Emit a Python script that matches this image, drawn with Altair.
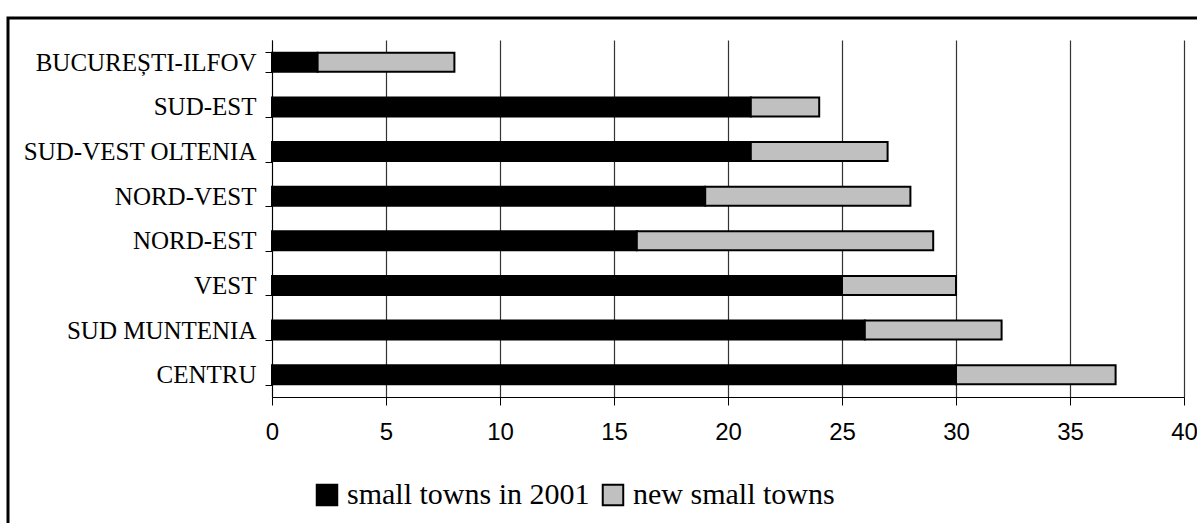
import altair as alt
import pandas as pd

# Development regions, top to bottom
regions = [
    "BUCUREȘTI-ILFOV",
    "SUD-EST",
    "SUD-VEST OLTENIA",
    "NORD-VEST",
    "NORD-EST",
    "VEST",
    "SUD MUNTENIA",
    "CENTRU",
]
towns_2001 = [2, 21, 21, 19, 16, 25, 26, 30]
new_towns = [6, 3, 6, 9, 13, 5, 6, 7]

series_names = ["small towns in 2001", "new small towns"]
series_colors = ["#000000", "#c0c0c0"]

rows = []
for r, a, b in zip(regions, towns_2001, new_towns):
    rows.append({"region": r, "series": series_names[0], "value": a, "rank": 0})
    rows.append({"region": r, "series": series_names[1], "value": b, "rank": 1})
df = pd.DataFrame(rows)

bars = (
    alt.Chart(df)
    .mark_bar(stroke="black", strokeWidth=2, size=19)
    .encode(
        y=alt.Y(
            "region:N",
            sort=regions,
            title=None,
            scale=alt.Scale(paddingInner=0.55, paddingOuter=0.275),
            axis=alt.Axis(
                tickBand="extent",
                tickSize=7,
                tickColor="black",
                domainColor="black",
                domainWidth=1,
                labelFont="Liberation Serif",
                labelFontSize=25,
                labelColor="black",
                labelPadding=9,
                labelLimit=0,
                grid=False,
            ),
        ),
        x=alt.X(
            "value:Q",
            stack="zero",
            title=None,
            scale=alt.Scale(domain=[0, 40], nice=False),
            axis=alt.Axis(
                values=list(range(0, 41, 5)),
                tickSize=8,
                tickColor="black",
                domainColor="black",
                grid=True,
                gridColor="#333333",
                gridWidth=1.2,
                labelFont="Liberation Sans",
                labelFontSize=24,
                labelColor="black",
                labelPadding=15,
                labelFlush=False,
                labelOverlap=False,
            ),
        ),
        color=alt.Color(
            "series:N",
            scale=alt.Scale(domain=series_names, range=series_colors),
            legend=alt.Legend(
                title=None,
                orient="none",
                direction="horizontal",
                legendX=40,
                legendY=440,
                symbolType="square",
                symbolSize=420,
                symbolStrokeColor="black",
                symbolStrokeWidth=2,
                labelFont="Liberation Serif",
                labelFontSize=30,
                labelColor="black",
                labelOffset=5,
                labelLimit=0,
                columnPadding=8,
                padding=0,
            ),
        ),
        order=alt.Order("rank:Q"),
    )
)

# Outer frame around the figure
frame = (
    alt.Chart(alt.Data(values=[{}]))
    .mark_rect(fillOpacity=0, stroke="black", strokeWidth=3)
    .encode(
        x=alt.value(-264),
        x2=alt.value(950),
        y=alt.value(-22),
        y2=alt.value(520),
    )
)

chart = (
    alt.layer(frame, bars)
    .properties(
        width=912,
        height=357,
        autosize=alt.AutoSizeParams(type="none"),
        padding={"left": 272, "top": 40, "right": 13, "bottom": 126},
        background="white",
    )
    .configure_view(stroke=None)
)

chart.save("out.html", embed_options={"renderer": "svg", "actions": False})
